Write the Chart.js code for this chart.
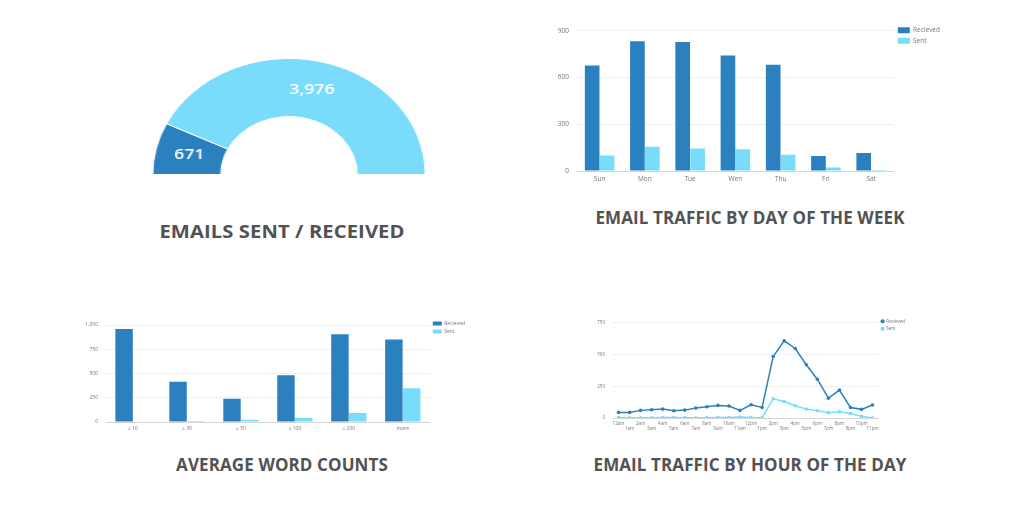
<!DOCTYPE html>
<html>
<head>
<meta charset="utf-8">
<script src="https://cdn.jsdelivr.net/npm/chart.js@4.4.0/dist/chart.umd.min.js"></script>
<style>
  html, body { margin: 0; padding: 0; background: #fff; width: 1024px; height: 512px; overflow: hidden; }
  .box { position: absolute; }
  .title { position: absolute; width: 420px; text-align: center; font-family: "Open Sans", sans-serif;
           font-weight: 700; font-size: 17px; color: #525252; letter-spacing: 0.1px; white-space: nowrap; }
  .title.big { font-size: 18px; transform: scaleX(1.12); transform-origin: 50% 50%; }
  #gaugeWrap { transform: scaleX(1.175); transform-origin: 50% 50%; }
</style>
</head>
<body>

<div class="box" id="gaugeWrap" style="left:172px; top:58px; width:234px; height:117px;"><canvas id="gauge"></canvas></div>
<div class="box" style="left:545px; top:19px;"><canvas id="byDay"></canvas></div>
<div class="box" style="left:80px; top:314px;"><canvas id="words"></canvas></div>
<div class="box" style="left:595px; top:312px;"><canvas id="byHour"></canvas></div>

<div class="title big" style="left:72px; top:219px;">EMAILS SENT / RECEIVED</div>
<div class="title" style="left:540px; top:206px;">EMAIL TRAFFIC BY DAY OF THE WEEK</div>
<div class="title" style="left:72px; top:453px;">AVERAGE WORD COUNTS</div>
<div class="title" style="left:540px; top:453px;">EMAIL TRAFFIC BY HOUR OF THE DAY</div>

<script>
// ---- data ----
const totalLabels = ['Sent', 'Recieved'];
const totalValues = [671, 3976];

const dayLabels = ['Sun', 'Mon', 'Tue', 'Wen', 'Thu', 'Fri', 'Sat'];
const dayReceived = [678, 834, 828, 742, 683, 96, 115];
const daySent = [99, 155, 144, 140, 104, 22, 7];
const dayTicks = [0, 300, 600, 900];

const wordLabels = ['\u2264 10', '\u2264 30', '\u2264 50', '\u2264 100', '\u2264 200', 'more'];
const wordReceived = [959, 416, 239, 481, 904, 850];
const wordSent = [0, 10, 24, 44, 92, 348];
const wordTicks = [0, 250, 500, 750, 1000];

const hourLabels = ['12am', '1am', '2am', '3am', '4am', '5am', '6am', '7am', '8am', '9am', '10am', '11am',
                    '12pm', '1pm', '2pm', '3pm', '4pm', '5pm', '6pm', '7pm', '8pm', '9pm', '10pm', '11pm'];
const hourReceived = [44, 44, 60, 65, 70, 57, 62, 78, 88, 99, 94, 60, 104, 83, 484, 607, 547, 419, 305, 156, 219, 83, 68, 102];
const hourSent = [3, 2, 2, 1, 3, 3, 2, 2, 2, 3, 3, 8, 4, 2, 151, 130, 96, 70, 57, 42, 50, 36, 13, 0];
const hourTicks = [0, 250, 500, 750];

// ---- styling ----
const DARK = '#2b80c0';
const LIGHT = '#78dcfa';
const FONT = '"Open Sans", sans-serif';
Chart.defaults.font.family = FONT;
Chart.defaults.color = '#777';
Chart.defaults.animation = false;

function fmt(n) { return String(n).replace(/\B(?=(\d{3})+(?!\d))/g, ','); }

// value labels drawn in the middle of each gauge segment
const arcValueLabels = {
  id: 'arcValueLabels',
  afterDatasetsDraw(chart) {
    const ctx = chart.ctx;
    const meta = chart.getDatasetMeta(0);
    ctx.save();
    ctx.font = '600 15px ' + FONT;
    ctx.fillStyle = '#ffffff';
    ctx.textAlign = 'center';
    ctx.textBaseline = 'middle';
    meta.data.forEach((arc, i) => {
      const p = arc.tooltipPosition();
      ctx.fillText(fmt(chart.data.datasets[0].data[i]), p.x, p.y);
    });
    ctx.restore();
  }
};

function sizeCanvas(id, w, h) {
  const c = document.getElementById(id);
  c.width = w; c.height = h;
  c.style.width = w + 'px'; c.style.height = h + 'px';
  return c;
}

// ---- gauge ----
new Chart(sizeCanvas('gauge', 234, 117), {
  type: 'doughnut',
  data: {
    labels: totalLabels,
    datasets: [{ data: totalValues, backgroundColor: [DARK, LIGHT], borderColor: '#ffffff', borderWidth: 1 }]
  },
  options: {
    responsive: false,
    rotation: -90,
    circumference: 180,
    cutout: '50%',
    layout: { padding: 0 },
    plugins: { legend: { display: false }, tooltip: { enabled: false } }
  },
  plugins: [arcValueLabels]
});

function barOptions(ticks, yWidth, xHeight, tickFont, legendFont, legendBox, legendPad) {
  return {
    responsive: false,
    layout: { padding: { top: 4, right: 0, bottom: 0, left: 0 } },
    scales: {
      x: {
        grid: { display: false, drawTicks: false },
        border: { color: '#d6d6d6' },
        ticks: { font: { size: tickFont }, padding: 4, maxRotation: 0, autoSkip: false },
        afterFit(s) { s.height = xHeight; }
      },
      y: {
        min: ticks[0], max: ticks[ticks.length - 1],
        afterBuildTicks(s) { s.ticks = ticks.map(v => ({ value: v })); },
        grid: { color: '#efefef', drawTicks: false },
        border: { display: false },
        ticks: { font: { size: tickFont }, padding: 8 },
        afterFit(s) { s.width = yWidth; }
      }
    },
    plugins: {
      tooltip: { enabled: false },
      legend: {
        position: 'right', align: 'start',
        labels: { boxWidth: legendBox[0], boxHeight: legendBox[1], font: { size: legendFont },
                  padding: legendPad, color: '#777' }
      }
    }
  };
}

// ---- traffic by day ----
new Chart(sizeCanvas('byDay', 405, 166), {
  type: 'bar',
  data: {
    labels: dayLabels,
    datasets: [
      { label: 'Recieved', data: dayReceived, backgroundColor: DARK, categoryPercentage: 0.66, barPercentage: 0.98 },
      { label: 'Sent', data: daySent, backgroundColor: LIGHT, categoryPercentage: 0.66, barPercentage: 0.98 }
    ]
  },
  options: barOptions(dayTicks, 32, 14, 6.5, 6.5, [12, 6], 4)
});

// ---- word counts ----
new Chart(sizeCanvas('words', 395, 120), {
  type: 'bar',
  data: {
    labels: wordLabels,
    datasets: [
      { label: 'Recieved', data: wordReceived, backgroundColor: DARK, categoryPercentage: 0.66, barPercentage: 0.98 },
      { label: 'Sent', data: wordSent, backgroundColor: LIGHT, categoryPercentage: 0.66, barPercentage: 0.98 }
    ]
  },
  options: barOptions(wordTicks, 26, 12, 5, 5, [9, 4], 3)
});

// ---- traffic by hour ----
const hourOpts = barOptions(hourTicks, 18, 14, 4.5, 4.5, [3, 3], 3);
hourOpts.scales.x.offset = true;
hourOpts.scales.x.ticks.padding = 3;
hourOpts.scales.x.ticks.callback = function (value, index) {
  const label = this.getLabelForValue(value);
  return index % 2 === 0 ? [label, ''] : ['', label];
};
hourOpts.plugins.legend.labels.usePointStyle = true;

new Chart(sizeCanvas('byHour', 320, 120), {
  type: 'line',
  data: {
    labels: hourLabels,
    datasets: [
      { label: 'Recieved', data: hourReceived, borderColor: DARK, backgroundColor: DARK, borderWidth: 1.5,
        pointRadius: 1.8, pointBorderWidth: 0, pointStyle: 'circle', tension: 0, fill: false },
      { label: 'Sent', data: hourSent, borderColor: LIGHT, backgroundColor: LIGHT, borderWidth: 1.5,
        pointRadius: 1.8, pointBorderWidth: 0, pointStyle: 'circle', tension: 0, fill: false }
    ]
  },
  options: hourOpts
});
</script>
</body>
</html>
